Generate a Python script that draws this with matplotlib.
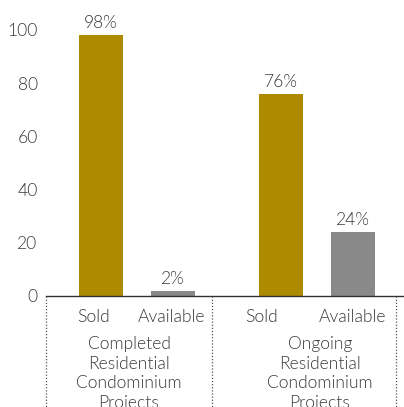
import matplotlib
matplotlib.use("Agg")
import matplotlib.pyplot as plt
from matplotlib.transforms import blended_transform_factory, ScaledTranslation

plt.rcParams['font.family'] = ['Lato', 'DejaVu Sans']

categories = ["Sold", "Available", "Sold", "Available"]
values = [98, 2, 76, 24]
labels = ["98%", "2%", "76%", "24%"]
groups = ["Completed\nResidential\nCondominium\nProjects", "Ongoing\nResidential\nCondominium\nProjects"]
positions = [0, 1, 2.5, 3.5]
colors = ["#AD8A00", "#898989", "#AD8A00", "#898989"]
yticks = [0, 20, 40, 60, 80, 100]

W, H = 404, 407
fig = plt.figure(figsize=(W/100, H/100), dpi=100)
ax = fig.add_axes([46/W, 1-296/H, (404-46)/W, (296-30)/H])

text_color = "#3a3a3a"
fw = 300
fs = 12.6

ax.bar(positions, values, width=44/72, color=colors)
for p, v, l in zip(positions, values, labels):
    ax.text(p, v + 1.5, l, ha='center', va='bottom', fontsize=fs, color=text_color, fontweight=fw)

ax.set_xlim(-55/72, (404-101)/72)
ax.set_ylim(0, 100)
ax.set_yticks(yticks)
ax.set_yticklabels([str(t) for t in yticks], fontsize=fs, color=text_color, fontweight=fw)
ax.set_xticks(positions)
ax.set_xticklabels(categories, fontsize=fs, color=text_color, fontweight=fw)
ax.tick_params(axis='y', length=0, pad=6)
ax.tick_params(axis='x', length=0, pad=9)
for s in ['top', 'right', 'left']:
    ax.spines[s].set_visible(False)
ax.spines['bottom'].set_color('#333333')
ax.spines['bottom'].set_linewidth(1.0)

# tick-label horizontal nudges (pixels) as seen in the reference
label_shift = [-7.5, -1.5, -19.5, 0]
for lab, dx in zip(ax.get_xticklabels(), label_shift):
    lab.set_transform(lab.get_transform() + ScaledTranslation(dx/100, 0, fig.dpi_scale_trans))

trans = blended_transform_factory(ax.transData, ax.transAxes)
for xs in [-55/72, (212-101)/72, (396-101)/72]:
    ax.plot([xs, xs], [0, -0.5], transform=trans, color='#555555', lw=0.9,
            linestyle=(0, (1, 1.5)), clip_on=False)

group_centers = [(129-101)/72, (320-101)/72]
for gc, g in zip(group_centers, groups):
    ax.text(gc, -0.15, g, transform=trans, ha='center', va='top', fontsize=fs,
            color=text_color, fontweight=fw, linespacing=1.28)

fig.savefig("out.png", dpi=100)
